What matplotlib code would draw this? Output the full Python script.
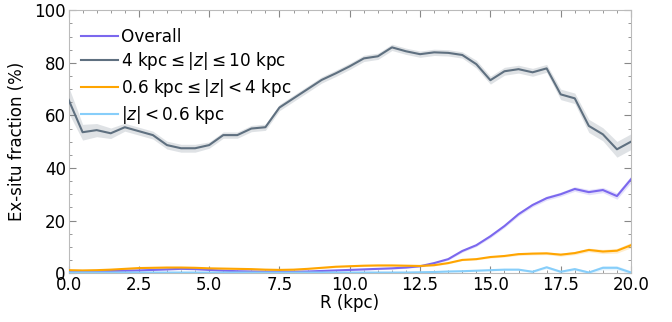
import numpy as np
import matplotlib
matplotlib.use("Agg")
import matplotlib.pyplot as plt
from matplotlib.ticker import MultipleLocator

R = np.arange(0, 20.01, 0.5)

halo = [66, 53.6, 54.4, 53.2, 55.5, 54, 52.5, 48.7, 47.5, 47.5, 48.7, 52.5, 52.5, 55, 55.5,
        63, 66.5, 70, 73.5, 76, 78.7, 81.7, 82.5, 85.9, 84.4, 83.3, 84, 83.8, 83, 79.5,
        73.4, 76.8, 77.6, 76.4, 77.9, 68, 66.5, 56, 52.8, 47.1, 50]
halo_err = [5, 3, 2.5, 2, 1.5, 1.5, 1.5, 1.5, 1.5, 1.5, 1.2, 1.2, 1.2, 1.2, 1.2,
            1.2, 1.2, 1.2, 1.2, 1.2, 1.2, 1.2, 1.2, 1.2, 1.2, 1.2, 1.2, 1.2, 1.2, 1.5,
            1.5, 1.5, 1.5, 1.5, 1.5, 2, 2, 2.5, 2.5, 3, 3]

overall = [0.6, 0.6, 0.7, 0.8, 0.9, 1.0, 1.2, 1.4, 1.6, 1.5, 1.2, 0.9, 0.7, 0.6, 0.5,
           0.5, 0.5, 0.6, 0.8, 1.0, 1.2, 1.4, 1.6, 1.8, 2.1, 2.6, 3.8, 5.3, 8.4, 10.6,
           14, 17.9, 22.4, 25.9, 28.5, 30, 32, 30.8, 31.6, 29.3, 35.7]
overall_err = [0.3] * 26 + [0.4, 0.4, 0.5, 0.5, 0.6, 0.6, 0.7, 0.7, 0.8, 0.8, 0.9, 1.0, 1.0, 1.2, 1.3]

thick = [1.1, 1.0, 1.1, 1.3, 1.6, 1.9, 2.0, 2.1, 2.1, 2.0, 1.8, 1.7, 1.6, 1.5, 1.3,
         1.2, 1.3, 1.6, 2.0, 2.4, 2.6, 2.8, 2.9, 2.9, 2.8, 2.7, 3.0, 3.8, 5.0, 5.3,
         6.1, 6.5, 7.2, 7.4, 7.5, 7.0, 7.6, 8.8, 8.2, 8.5, 10.6]
thick_err = [0.3] * 30 + [0.4, 0.4, 0.5, 0.5, 0.5, 0.6, 0.6, 0.7, 0.8, 0.9, 1.0]

thin = [0.2] * 25 + [0.3, 0.4, 0.6, 0.7, 0.9, 1.1, 1.3, 1.3, 0.5, 2.2, 0.5, 1.5, 0.2, 2.0, 2.0, 0.2]
thin_err = [0.2] * 30 + [0.3, 0.3, 0.3, 0.4, 0.5, 0.5, 0.5, 0.6, 0.8, 0.8, 0.6]

labels = ["Overall", r"4 kpc$\leq|z|\leq$10 kpc", r"0.6 kpc$\leq|z|<$4 kpc", r"$|z|<$0.6 kpc"]
colors = ["#7b68ee", "#5f7080", "#ffa500", "#87cefa"]
series = [(overall, overall_err), (halo, halo_err), (thick, thick_err), (thin, thin_err)]

plt.rcParams['font.family'] = ['DejaVu Sans']
plt.rcParams['mathtext.fontset'] = 'dejavusans'

fig, ax = plt.subplots(figsize=(6.72, 3.22), dpi=100)
fig.subplots_adjust(left=0.102, right=0.939, top=0.968, bottom=0.152)

for i in range(4):
    y, e = series[i]
    y = np.array(y); e = np.array(e)
    ax.fill_between(R, y - e, y + e, color=colors[i], alpha=0.2, lw=0, zorder=1 + i)
for i in range(4):
    y, e = series[i]
    ax.plot(R, y, color=colors[i], lw=1.5, label=labels[i], zorder=5 + i)

ax.set_xlim(0, 20)
ax.set_ylim(0, 100)
ax.xaxis.set_major_locator(MultipleLocator(2.5))
ax.xaxis.set_minor_locator(MultipleLocator(0.5))
ax.yaxis.set_major_locator(MultipleLocator(20))
ax.yaxis.set_minor_locator(MultipleLocator(5))
ax.xaxis.set_major_formatter(matplotlib.ticker.FormatStrFormatter('%.1f'))
ax.tick_params(which='both', direction='in', top=True, right=True, color='#888888', labelsize=12, pad=2)
ax.tick_params(which='major', length=5)
ax.tick_params(which='minor', length=2.5)
for s in ax.spines.values():
    s.set_color('#bbbbbb')
ax.set_xlabel("R (kpc)", fontsize=12, labelpad=0)
ax.set_ylabel("Ex-situ fraction (%)", fontsize=12, labelpad=6)

leg = ax.legend(loc='upper left', frameon=False, fontsize=12.2, handlelength=2.2,
                handletextpad=0.15, labelspacing=0.28, borderaxespad=0.0,
                bbox_to_anchor=(0.01, 0.96))

fig.savefig("out.png", dpi=100)
